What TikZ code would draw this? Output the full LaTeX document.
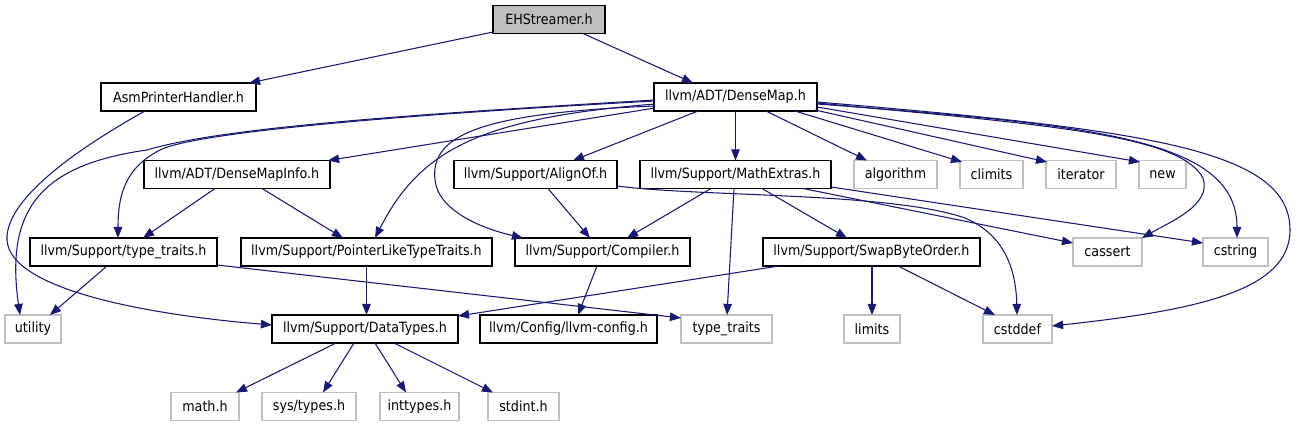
\documentclass[tikz,border=0pt]{standalone}
\usepackage{fontspec}
\setmainfont{DejaVu Sans Condensed}
\usetikzlibrary{arrows.meta,calc}
\definecolor{edgecol}{HTML}{191970}
\definecolor{syscol}{HTML}{BFBFBF}
\definecolor{ehfill}{HTML}{BFBFBF}
\tikzset{
  hdr/.style={draw=black, line width=0.9pt, fill=white, minimum height=21pt, inner sep=0pt, font=\fontsize{10.6}{12}\selectfont},
  sys/.style={hdr, draw=syscol},
  dep/.style={draw=edgecol, line width=0.8pt, -{Triangle[length=8.3pt,width=6.4pt]}},
}
\begin{document}
\begin{tikzpicture}[x=0.75pt,y=-0.75pt]
\useasboundingbox (0,0) rectangle (1299,427);
% row 1
\node[hdr, fill=ehfill, minimum width=84pt] (eh) at (549,19.5) {EHStreamer.h};
% row 2
\node[hdr, minimum width=116.25pt] (asm) at (178.5,97) {AsmPrinterHandler.h};
\node[hdr, minimum width=122.25pt] (dm) at (735.5,97) {llvm/ADT/DenseMap.h};
% row 3
\node[hdr, minimum width=139.5pt] (dmi) at (237,174.5) {llvm/ADT/DenseMapInfo.h};
\node[hdr, minimum width=122.25pt] (align) at (535.5,174.5) {llvm/Support/AlignOf.h};
\node[hdr, minimum width=143.25pt] (math) at (735.5,174.5) {llvm/Support/MathExtras.h};
\node[sys, minimum width=62.25pt] (algorithm) at (895.5,174.5) {algorithm};
\node[sys, minimum width=47.25pt] (climits) at (991.5,174.5) {climits};
\node[sys, minimum width=52.5pt] (iterator) at (1081,174.5) {iterator};
\node[sys, minimum width=35.25pt] (new) at (1162.5,174.5) {new};
% row 4
\node[hdr, minimum width=140.25pt] (tt) at (123.5,252) {llvm/Support/type\_traits.h};
\node[hdr, minimum width=188.25pt] (plt) at (366.5,252) {llvm/Support/PointerLikeTypeTraits.h};
\node[hdr, minimum width=131.25pt] (comp) at (602.5,252) {llvm/Support/Compiler.h};
\node[hdr, minimum width=162.75pt] (swap) at (871.5,252) {llvm/Support/SwapByteOrder.h};
\node[sys, minimum width=51.75pt] (cassert) at (1107.5,252) {cassert};
\node[sys, minimum width=48.75pt] (cstring) at (1235.5,252) {cstring};
% row 5
\node[sys, minimum width=42pt] (utility) at (33,329) {utility};
\node[hdr, minimum width=139.5pt] (dt) at (365,329) {llvm/Support/DataTypes.h};
\node[hdr, minimum width=132.75pt] (cfg) at (568.5,329) {llvm/Config/llvm-config.h};
\node[sys, minimum width=68.25pt] (stdtt) at (726.5,329) {type\_traits};
\node[sys, minimum width=42pt] (limits) at (872,329) {limits};
\node[sys, minimum width=51.75pt] (cstddef) at (1017.5,329) {cstddef};
% row 6
\node[sys, minimum width=51pt] (mathh) at (205,406.5) {math.h};
\node[sys, minimum width=70.5pt] (systypes) at (309,406.5) {sys/types.h};
\node[sys, minimum width=59.25pt] (inttypes) at (419.5,406.5) {inttypes.h};
\node[sys, minimum width=53.25pt] (stdint) at (523.5,406.5) {stdint.h};

% edges
\draw[dep] ($(eh)+(-56,12.5)$) -- ($(asm)+(70.5,-14)$);
\draw[dep] ($(eh)+(34,14)$) -- ($(dm)+(-42.5,-14)$);
\draw[dep] ($(asm)+(-33.5,14)$) .. controls (75,150) and (5,200) .. (7,240)
  .. controls (10,290) and (150,315) .. ($(dt)+(-93,-4)$);
% DenseMap
\draw[dep] ($(dm)+(-80.5,11)$) -- ($(dmi)+(91,-14)$);
\draw[dep] ($(dm)+(-80.5,4)$) .. controls (450,112) and (200,130) .. (160,150)
  .. controls (125,168) and (118,195) .. ($(tt)+(-5.5,-14)$);
\draw[dep] ($(dm)+(-80.5,3)$) .. controls (400,115) and (220,128) .. (147,150)
  .. controls (40,165) and (5,210) .. ($(utility)+(-13,-14)$);
\draw[dep] ($(dm)+(-80.5,7)$) .. controls (480,118) and (420,150) .. ($(plt)+(8.5,-14)$);
\draw[dep] ($(dm)+(-80.5,9)$) .. controls (480,113) and (430,135) .. (435,180)
  .. controls (438,210) and (480,228) .. ($(comp)+(-79.5,-14)$);
\draw[dep] ($(dm)+(-37.5,14)$) -- ($(align)+(37.5,-14)$);
\draw[dep] ($(dm)+(0,14)$) -- ($(math)+(0,-14)$);
\draw[dep] ($(dm)+(30.5,14)$) -- ($(algorithm)+(-28.5,-14)$);
\draw[dep] ($(dm)+(59.5,14)$) -- ($(climits)+(-29.5,-12.5)$);
\draw[dep] ($(dm)+(79.5,13)$) -- ($(iterator)+(-34,-12.5)$);
\draw[dep] ($(dm)+(81.5,10)$) -- ($(new)+(-22.5,-12.5)$);
\draw[dep] ($(dm)+(81.5,6)$) .. controls (1050,125) and (1180,135) .. (1203,178)
  .. controls (1212,205) and (1170,222) .. ($(cassert)+(34.5,-14)$);
\draw[dep] ($(dm)+(81.5,7)$) .. controls (1100,125) and (1237,140) .. ($(cstring)+(1.5,-14)$);
\draw[dep] ($(dm)+(81.5,5)$) .. controls (1150,130) and (1290,150) .. (1290,230)
  .. controls (1290,290) and (1200,310) .. ($(cstddef)+(34.5,-3)$);
% AlignOf
\draw[dep] ($(align)+(12.5,14)$) -- ($(comp)+(-12.5,-14)$);
\draw[dep] ($(align)+(81.5,11.5)$) .. controls (700,197) and (890,192) .. (965,218)
  .. controls (1005,235) and (1016,270) .. ($(cstddef)+(-0.5,-14)$);
% MathExtras
\draw[dep] ($(math)+(-24.5,14)$) -- ($(comp)+(24.5,-14)$);
\draw[dep] ($(math)+(26.5,14)$) -- ($(swap)+(-24.5,-14)$);
\draw[dep] ($(math)+(-1.5,14)$) -- ($(stdtt)+(0.5,-14)$);
\draw[dep] ($(math)+(67.5,14)$) -- ($(cassert)+(-34.5,-9)$);
\draw[dep] ($(math)+(95.5,12.5)$) -- ($(cstring)+(-32.5,-9)$);
% DenseMapInfo
\draw[dep] ($(dmi)+(-22,14)$) -- ($(tt)+(19.5,-14)$);
\draw[dep] ($(dmi)+(25,14)$) -- ($(plt)+(-23.5,-14)$);
% type_traits.h
\draw[dep] ($(tt)+(-16.5,14)$) -- ($(utility)+(17,-14)$);
\draw[dep] ($(tt)+(93.5,13)$) -- ($(stdtt)+(-45.5,-11)$);
% PointerLike, Compiler, SwapByteOrder
\draw[dep] ($(plt)+(0,14)$) -- ($(dt)+(1.5,-14)$);
\draw[dep] ($(comp)+(-5.5,14)$) -- ($(cfg)+(9.5,-14)$);
\draw[dep] ($(swap)+(-92.5,14)$) -- ($(dt)+(93,-13)$);
\draw[dep] ($(swap)+(0.5,14)$) -- ($(limits)+(0,-14)$);
\draw[dep] ($(swap)+(26.5,14)$) -- ($(cstddef)+(-22.5,-14)$);
% DataTypes
\draw[dep] ($(dt)+(-29,14)$) -- ($(mathh)+(31,-14)$);
\draw[dep] ($(dt)+(-11,14)$) -- ($(systypes)+(14,-14)$);
\draw[dep] ($(dt)+(10,14)$) -- ($(inttypes)+(-13.5,-14)$);
\draw[dep] ($(dt)+(29,14)$) -- ($(stdint)+(-30.5,-14)$);
\end{tikzpicture}
\end{document}
